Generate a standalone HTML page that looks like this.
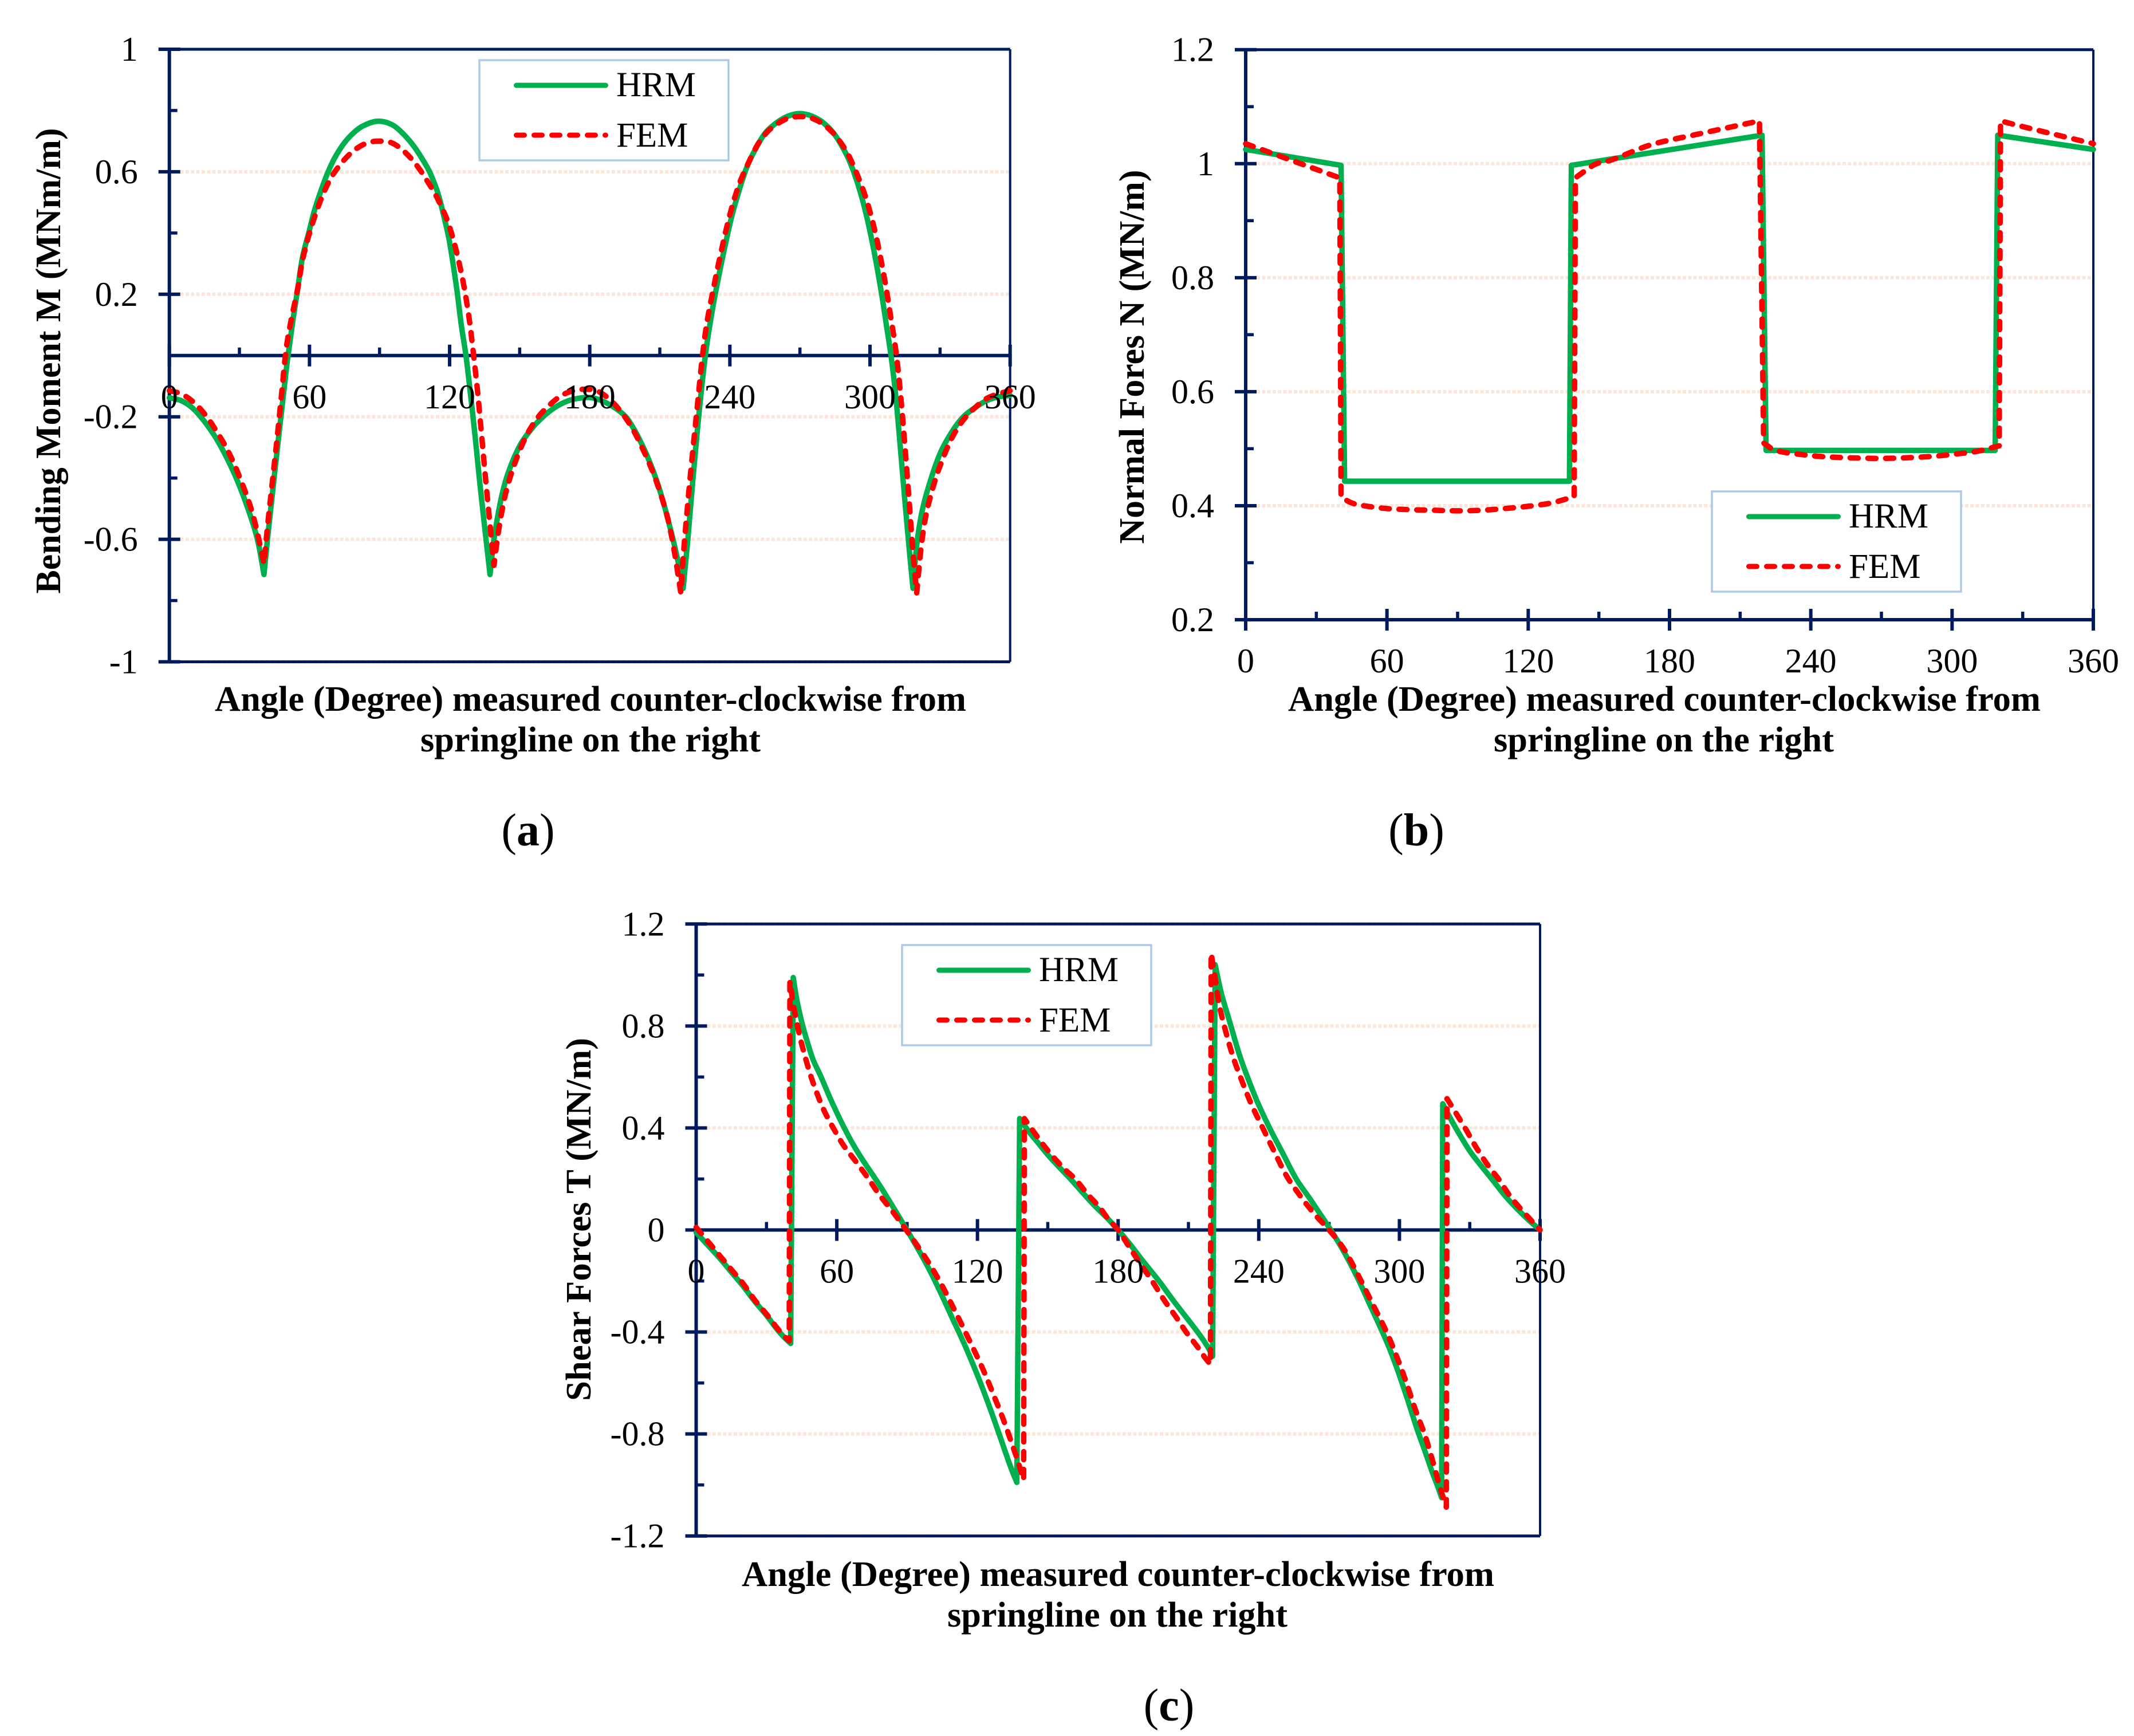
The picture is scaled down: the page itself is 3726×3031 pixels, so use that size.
<!DOCTYPE html>
<html lang="en">
<head>
<meta charset="utf-8">
<title>HRM vs FEM internal forces</title>
<style>
html,body{margin:0;padding:0;background:#fff;}
svg{display:block;}
text{font-family:"Liberation Serif",serif;fill:#000;}
.tk{font-size:60px;}
.lg{font-size:61px;}
.ti{font-size:62px;font-weight:bold;}
.cap{font-size:80px;}
</style>
</head>
<body>
<svg id="fig" xmlns="http://www.w3.org/2000/svg" width="3726" height="3031" viewBox="0 0 3726 3031">
  <rect x="0" y="0" width="3726" height="3031" fill="#fff"/>
  <g id="panelA"></g>
  <g id="panelB"></g>
  <g id="panelC"></g>

  <text class="ti" x="1031" y="1241" text-anchor="middle" textLength="1312" lengthAdjust="spacingAndGlyphs">Angle (Degree) measured counter-clockwise from</text>
  <text class="ti" x="1031" y="1312" text-anchor="middle" textLength="594" lengthAdjust="spacingAndGlyphs">springline on the right</text>
  <text class="ti" transform="translate(105 630) rotate(-90)" text-anchor="middle" textLength="813" lengthAdjust="spacingAndGlyphs">Bending Moment M (MNm/m)</text>
  <text class="cap" x="922" y="1476" text-anchor="middle">(<tspan font-weight="bold">a</tspan>)</text>

  <text class="ti" x="2906" y="1241" text-anchor="middle" textLength="1314" lengthAdjust="spacingAndGlyphs">Angle (Degree) measured counter-clockwise from</text>
  <text class="ti" x="2905" y="1312" text-anchor="middle" textLength="594" lengthAdjust="spacingAndGlyphs">springline on the right</text>
  <text class="ti" transform="translate(1997 623) rotate(-90)" text-anchor="middle" textLength="653" lengthAdjust="spacingAndGlyphs">Normal Fores N (MN/m)</text>
  <text class="cap" x="2473" y="1476" text-anchor="middle">(<tspan font-weight="bold">b</tspan>)</text>

  <text class="ti" x="1952" y="2769" text-anchor="middle" textLength="1314" lengthAdjust="spacingAndGlyphs">Angle (Degree) measured counter-clockwise from</text>
  <text class="ti" x="1951" y="2840" text-anchor="middle" textLength="594" lengthAdjust="spacingAndGlyphs">springline on the right</text>
  <text class="ti" transform="translate(1031 2129) rotate(-90)" text-anchor="middle" textLength="634" lengthAdjust="spacingAndGlyphs">Shear Forces T (MN/m)</text>
  <text class="cap" x="2041" y="3004" text-anchor="middle">(<tspan font-weight="bold">c</tspan>)</text>
</svg>
<script>
// ---- shared axis data ----
const angleMajorTicks = [0,60,120,180,240,300,360];
const angleMinorTicks = [30,90,150,210,270,330];
const seriesNames = ['HRM','FEM'];

// ---- panel (a) bending moment: [angle, value] ----
const momentMajorTicks = [1,0.6,0.2,-0.2,-0.6,-1];
const momentMinorTicks = [0.8,0.4,-0.4,-0.8];
const momentTickLabels = ['1','0.6','0.2','-0.2','-0.6','-1'];
const momentHRM = [[0,-.138],[5,-.147],[10,-.172],[15,-.215],[20,-.27],[25,-.34],[30,-.425],[35,-.53],[38,-.61],[40.5,-.715],
 [42,-.6],[44,-.46],[46,-.32],[48,-.185],[50,-.05],[51,.01],[53,.12],[55,.22],[57,.32],[60,.41],[62,.47],[65,.54],[68,.6],[71,.648],[75,.695],[79,.728],[83,.75],[89,.765],
 [95,.755],[100,.725],[105,.68],[110,.62],[112,.59],[115,.53],[118,.44],[120,.37],[123,.22],[125,.10],[127,0],[129,-.13],[131,-.27],[133,-.42],[135,-.56],[137.3,-.715],
 [139,-.60],[142,-.47],[145,-.385],[150,-.295],[155,-.24],[160,-.2],[165,-.17],[170,-.15],[175,-.14],[180,-.137],[185,-.147],[190,-.167],[193,-.183],[196,-.205],[200,-.255],[205,-.335],[210,-.44],[215,-.58],[218,-.68],[220,-.76],
 [222,-.6],[224,-.42],[226,-.25],[228,-.1],[229.5,0],[231,.08],[233,.17],[235,.25],[238,.36],[241,.46],[244,.54],[247,.61],[250,.66],[255,.725],[260,.76],[265,.782],[270,.79],[275,.782],[280,.76],[285,.72],[290,.655],[293,.6],[296,.53],[299,.44],[302,.33],[305,.2],[307,.1],[309,0],[311,-.13],[313,-.3],[315,-.48],[317,-.65],[318.4,-.76],
 [320,-.62],[322,-.52],[325,-.43],[330,-.32],[335,-.25],[340,-.2],[345,-.17],[350,-.147],[355,-.135],[360,-.13]];
const momentFEM = [[0,-.115],[5,-.125],[10,-.15],[15,-.19],[20,-.245],[25,-.31],[30,-.395],[35,-.5],[38,-.59],[40.5,-.68],
 [42,-.56],[44,-.42],[46,-.28],[48,-.13],[50,.02],[52,.11],[55,.22],[57,.31],[60,.40],[63,.47],[66,.53],[70,.59],[75,.64],[80,.675],[85,.695],[90,.70],[95,.695],[100,.67],[105,.63],[110,.575],[115,.51],[120,.42],[125,.27],[128,.14],[130,.02],[132,-.12],[133,-.2],[135,-.37],[137,-.53],[139,-.685],
 [141,-.57],[144,-.45],[148,-.35],[153,-.26],[158,-.2],[163,-.16],[168,-.13],[173,-.115],[178,-.11],[183,-.115],[188,-.14],[193,-.18],[198,-.235],[203,-.31],[208,-.4],[213,-.52],[216,-.63],[219,-.775],
 [220,-.66],[222,-.48],[224,-.32],[226,-.17],[228,-.02],[230,.1],[233,.22],[236,.33],[240,.46],[244,.56],[248,.63],[252,.69],[256,.73],[260,.755],[265,.775],[270,.78],[275,.775],[280,.755],[285,.72],[290,.665],[294,.6],[298,.52],[302,.41],[306,.26],[309,.12],[311,.02],[313,-.12],[315,-.3],[317,-.5],[318.5,-.65],[320,-.775],
 [322,-.62],[324,-.52],[327,-.43],[330,-.36],[335,-.27],[340,-.21],[345,-.17],[350,-.14],[355,-.125],[360,-.115]];

// ---- panel (b) normal force: [angle, value] ----
const normalMajorTicks = [1.2,1,0.8,0.6,0.4,0.2];
const normalMinorTicks = [1.1,0.9,0.7,0.5,0.3];
const normalTickLabels = ['1.2','1','0.8','0.6','0.4','0.2'];
const normalHRM = [[0,1.025],[40.5,.997],[42,.443],[137.5,.443],[138.3,.997],[219.3,1.05],[221,.497],[318.3,.497],[319.4,1.05],[360,1.025]];
const normalFEM = [[0,1.035],[20,1.005],[40,.975],[40.5,.415],[45,.405],[50,.4],[60,.395],[70,.393],[80,.392],[90,.391],[100,.392],[110,.395],[120,.399],[130,.405],[139.5,.416],[140,.975],[145,.99],[149,1.0],[155,1.006],[172,1.033],[190,1.05],[218.2,1.075],[220,.51],[225,.497],[240,.488],[250,.485],[270,.483],[290,.486],[300,.49],[310,.495],[320,.505],[320.6,1.075],[330,1.065],[360,1.035]];

// ---- panel (c) shear force: [angle, value] ----
const shearMajorTicks = [1.2,0.8,0.4,0,-0.4,-0.8,-1.2];
const shearMinorTicks = [1,0.6,0.2,-0.2,-0.6,-1];
const shearTickLabels = ['1.2','0.8','0.4','0','-0.4','-0.8','-1.2'];
const shearHRM = [[0,-.01],[5,-.06],[10,-.11],[15,-.165],[20,-.22],[25,-.28],[30,-.335],[35,-.395],[38,-.425],[40.3,-.445],[41.4,.99],[43,.90],[45.2,.81],[48,.72],[50,.665],[53.3,.6],[57,.52],[60,.46],[63.2,.40],[67,.335],[71,.275],[76.5,.2],[80,.15],[85,.075],[89.9,0],[95,-.08],[100,-.165],[105,-.26],[110,-.36],[115,-.46],[120,-.57],[125,-.69],[130,-.82],[133,-.9],[135,-.95],[136.8,-.99],
 [138,.437],[142,.385],[146,.34],[150,.295],[155,.245],[159.7,.2],[165,.145],[170,.095],[175,.05],[180,0],[185,-.055],[190,-.115],[197.4,-.2],[203,-.27],[208,-.33],[213.9,-.4],[218,-.455],[220.3,-.495],
 [221.4,1.04],[224,.93],[227.8,.81],[232,.68],[236,.58],[240,.49],[244.6,.4],[250,.305],[256,.2],[262,.12],[266,.065],[270.7,0],[276,-.08],[282,-.185],[287,-.285],[292,-.385],[296,-.47],[300,-.57],[304,-.68],[307.5,-.78],[311,-.87],[314,-.95],[316.5,-1.01],[318,-1.05],
 [318.5,.495],[321,.45],[325,.385],[330,.31],[335,.25],[339.4,.2],[345,.135],[350,.085],[355,.04],[360,0]];
const shearFEM = [[0,.01],[5,-.045],[10,-.1],[15,-.155],[20,-.21],[25,-.275],[30,-.33],[35,-.39],[38,-.42],[39.7,-.435],[40,.975],[41.5,.88],[43,.81],[45,.73],[48.7,.61],[52,.525],[55,.46],[58.5,.4],[63,.33],[68,.27],[73.6,.2],[78,.14],[84,.07],[89.6,0],[95,-.07],[100,-.14],[105,-.22],[110,-.31],[114.8,-.4],[119,-.48],[123,-.56],[127,-.65],[130.5,-.73],[134,-.82],[137,-.9],[139.7,-.98],
 [140,.437],[144,.385],[148,.335],[152,.29],[157,.24],[161.7,.2],[167,.14],[172,.09],[176,.04],[180,0],[185,-.07],[190,-.14],[194.5,-.2],[200,-.28],[205,-.345],[209,-.4],[214,-.46],[217,-.5],[219.4,-.527],
 [219.7,1.085],[221.5,.98],[223,.89],[225,.81],[229,.68],[233,.58],[237,.49],[241.7,.4],[247,.3],[252,.21],[258,.13],[264,.06],[270,0],[276,-.07],[282,-.17],[288,-.28],[294.5,-.4],[299,-.5],[303,-.6],[307,-.71],[310.7,-.8],[314,-.9],[317,-1.0],[320,-1.087],
 [320.3,.515],[324,.46],[328,.4],[333,.32],[338,.25],[342.3,.2],[347,.135],[352,.08],[356,.04],[360,0]];

// ---- drawing ----
const NS = 'http://www.w3.org/2000/svg';
const NAVY = '#001a5e';
function mk(parent, tag, attrs, txt){
  const el = document.createElementNS(NS, tag);
  for (const k in attrs) el.setAttribute(k, attrs[k]);
  if (txt !== undefined) el.textContent = txt;
  parent.appendChild(el);
  
  return el;
}
function line(parent, x1, y1, x2, y2, w, color){
  return mk(parent, 'line', {x1:x1, y1:y1, x2:x2, y2:y2, stroke:color, 'stroke-width':w});
}
// Smooth curve through the mapped points; sharp turns stay as corners.
function smoothPath(p){
  const n = p.length;
  const isCorner = i => {
    if (i === 0 || i === n - 1) return true;
    const a = Math.atan2(p[i][1] - p[i-1][1], p[i][0] - p[i-1][0]);
    const b = Math.atan2(p[i+1][1] - p[i][1], p[i+1][0] - p[i][0]);
    let d = Math.abs(a - b);
    if (d > Math.PI) d = 2 * Math.PI - d;
    return d > 0.6;
  };
  const dist = (i, j) => Math.hypot(p[i][0] - p[j][0], p[i][1] - p[j][1]);
  let d = 'M' + p[0][0].toFixed(1) + ' ' + p[0][1].toFixed(1);
  for (let i = 0; i < n - 1; i++) {
    const len = dist(i, i + 1);
    let c1 = [p[i][0] + (p[i+1][0] - p[i][0]) / 3, p[i][1] + (p[i+1][1] - p[i][1]) / 3];
    let c2 = [p[i+1][0] - (p[i+1][0] - p[i][0]) / 3, p[i+1][1] - (p[i+1][1] - p[i][1]) / 3];
    if (!isCorner(i)) {
      const s = len / (dist(i - 1, i) + len) ;
      c1 = [p[i][0] + (p[i+1][0] - p[i-1][0]) * s / 3, p[i][1] + (p[i+1][1] - p[i-1][1]) * s / 3];
    }
    if (!isCorner(i + 1)) {
      const s = len / (dist(i + 1, i + 2) + len);
      c2 = [p[i+1][0] - (p[i+2][0] - p[i][0]) * s / 3, p[i+1][1] - (p[i+2][1] - p[i][1]) * s / 3];
    }
    d += 'C' + c1[0].toFixed(1) + ' ' + c1[1].toFixed(1) + ' ' + c2[0].toFixed(1) + ' ' + c2[1].toFixed(1) + ' ' + p[i+1][0].toFixed(1) + ' ' + p[i+1][1].toFixed(1);
  }
  return d;
}
function drawPanel(root, o){
  const sx = a => o.left + (a / 360) * (o.right - o.left);
  const sy = v => o.top + (o.yMax - v) / (o.yMax - o.yMin) * (o.bottom - o.top);
  const axisY = sy(o.xAxisAt);
  let el;

  // gridlines
  o.majors.forEach(v => {
    if (v === o.xAxisAt) return;
    el = line(root, o.left + 19, sy(v), o.right, sy(v), 6, '#fde6d8');
    el.setAttribute('stroke-dasharray', '6 3.3');
    
  });

  // frame
  el = line(root, o.left, o.top, o.right, o.top, 5, NAVY);
  
  el = line(root, o.right, o.top, o.right, o.bottom, 4, NAVY);
  
  el = line(root, o.left, o.bottom, o.right, o.bottom, o.xAxisAt === o.yMin ? 6 : 5, NAVY);
  
  el = line(root, o.left, o.top, o.left, o.bottom, 6, NAVY);
  
  el = line(root, o.left, axisY, o.right, axisY, 6, NAVY);
  

  // y ticks
  o.majors.forEach(v => {
    el = line(root, o.left - 19, sy(v), o.left + 19, sy(v), 6, NAVY);
    
  });
  o.minors.forEach(v => {
    el = line(root, o.left, sy(v), o.left + 14, sy(v), 5.5, NAVY);
    
  });
  // x ticks
  angleMajorTicks.forEach(a => {
    el = line(root, sx(a), axisY - 19, sx(a), axisY + 19, 6, NAVY);
    
  });
  angleMinorTicks.forEach(a => {
    el = line(root, sx(a), axisY - 14, sx(a), axisY, 5.5, NAVY);
    
  });

  // series
  const toPath = pts => smoothPath(pts.map(p => [sx(p[0]), sy(p[1])]));
  el = mk(root, 'path', {d:toPath(o.hrm), fill:'none', stroke:'#00b04f', 'stroke-width':9.5, 'stroke-linejoin':'round', 'stroke-linecap':'round'});
  
  el = mk(root, 'path', {d:toPath(o.fem), fill:'none', stroke:'#ff0000', 'stroke-width':9.5, 'stroke-linejoin':'round', 'stroke-linecap':'round', 'stroke-dasharray':'14 17'});
  

  // tick labels
  o.majors.forEach((v, i) => {
    el = mk(root, 'text', {class:'tk', x:o.left - 55, y:sy(v) + 20, 'text-anchor':'end'}, o.labels[i]);
    
  });
  angleMajorTicks.forEach(a => {
    el = mk(root, 'text', {class:'tk', x:sx(a), y:axisY + 92, 'text-anchor':'middle'}, String(a));
    
  });

  // legend
  const lg = mk(root, 'g', {});
  
  el = mk(lg, 'rect', {x:o.legX, y:o.legY, width:435, height:175, fill:'#fff', stroke:'#aec8e8', 'stroke-width':3.5});
  
  el = line(lg, o.legX + 64.5, o.legY + 44, o.legX + 220.5, o.legY + 44, 9, '#00b04f');
  el.setAttribute('stroke-linecap', 'round');
  
  el = mk(lg, 'text', {class:'lg', x:o.legX + 239, y:o.legY + 63}, seriesNames[0]);
  
  el = line(lg, o.legX + 64.5, o.legY + 131, o.legX + 220.5, o.legY + 131, 9, '#ff0000');
  el.setAttribute('stroke-linecap', 'round');
  el.setAttribute('stroke-dasharray', '14 17');
  
  el = mk(lg, 'text', {class:'lg', x:o.legX + 239, y:o.legY + 151}, seriesNames[1]);
  
}

drawPanel(document.getElementById('panelA'), {
  left:295.7, right:1763.7, top:86, bottom:1155.5, yMin:-1, yMax:1, xAxisAt:0,
  majors:momentMajorTicks, minors:momentMinorTicks, labels:momentTickLabels,
  hrm:momentHRM, fem:momentFEM, legX:837, legY:105
});
drawPanel(document.getElementById('panelB'), {
  left:2175, right:3655, top:86.7, bottom:1082, yMin:0.2, yMax:1.2, xAxisAt:0.2,
  majors:normalMajorTicks, minors:normalMinorTicks, labels:normalTickLabels,
  hrm:normalHRM, fem:normalFEM, legX:2989, legY:858
});
drawPanel(document.getElementById('panelC'), {
  left:1215.5, right:2689, top:1613.3, bottom:2681.7, yMin:-1.2, yMax:1.2, xAxisAt:0,
  majors:shearMajorTicks, minors:shearMinorTicks, labels:shearTickLabels,
  hrm:shearHRM, fem:shearFEM, legX:1575, legY:1650
});
</script>
</body>
</html>
